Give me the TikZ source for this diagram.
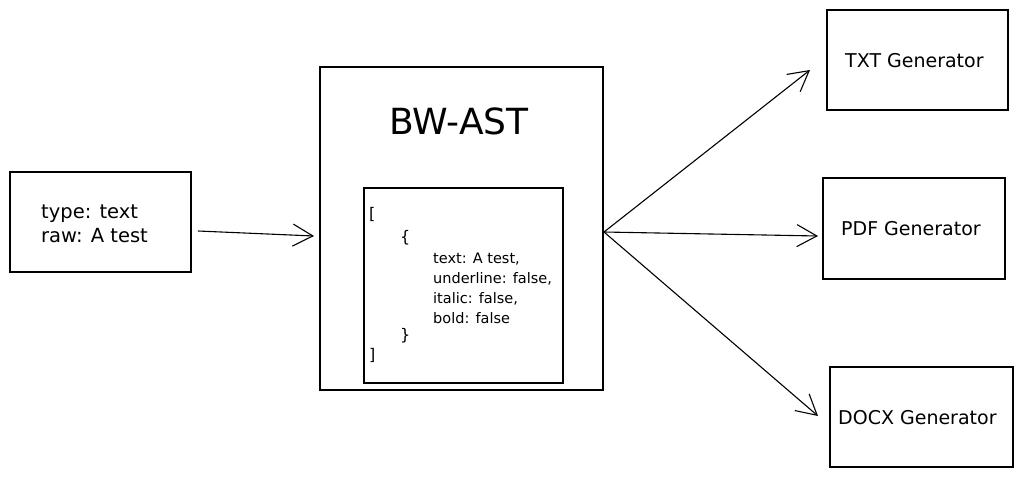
\documentclass[tikz,border=0pt]{standalone}
\usepackage{fontspec}
\setmainfont{DejaVu Sans}
\usetikzlibrary{arrows.meta}
\begin{document}
\begin{tikzpicture}[x=1pt,y=-1pt,
  box/.style={draw=black,line width=1.3pt},
  conn/.style={draw=black,line width=1.1pt,-{Straight Barb[length=20pt,width=22pt,line width=1.1pt]}},
  lbl/.style={font=\fontsize{19.5}{24}\selectfont,anchor=west,inner sep=0pt},
  gen/.style={font=\fontsize{19}{22}\selectfont,anchor=west,inner sep=0pt},
  code/.style={font=\fontsize{14.5}{20}\selectfont,anchor=west,inner sep=0pt},
  brk/.style={font=\fontsize{16}{20}\selectfont,anchor=west,inner sep=0pt}]
\useasboundingbox (0,0) rectangle (1022,477);
% left box
\node[box,minimum width=181pt,minimum height=100pt,inner sep=0pt] (src) at (100.5,222) {};
\node[lbl,align=left] (srct) at (41,224) {type: text\\raw: A test};
% BW-AST
\node[box,minimum width=283pt,minimum height=323pt,inner sep=0pt] (ast) at (461.5,228.5) {};
\node[font=\fontsize{36}{40}\selectfont,inner sep=0pt] (title) at (459,121) {BW-AST};
\node[box,minimum width=199pt,minimum height=195pt,inner sep=0pt] (inner) at (463.5,285.5) {};
\node[brk] (b1) at (369,214) {[};
\node[brk] (c1) at (400,238) {\{};
\node[code,align=left] (body) at (433,288) {text: A test,\\underline: false,\\italic: false,\\bold: false};
\node[brk] (c2) at (400,336) {\}};
\node[brk] (b2) at (369,355) {]};
% generators
\node[box,minimum width=181pt,minimum height=100pt,inner sep=0pt] (txt) at (917.5,60) {};
\node[gen] (txtl) at (845,61) {TXT Generator};
\node[box,minimum width=182pt,minimum height=101pt,inner sep=0pt] (pdf) at (914,228.5) {};
\node[gen] (pdfl) at (841,229) {PDF Generator};
\node[box,minimum width=183pt,minimum height=100pt,inner sep=0pt] (docx) at (921.5,417) {};
\node[gen] (docxl) at (838,418) {DOCX Generator};
% connectors
\coordinate (a0) at (198,231);
\coordinate (a1) at (314,236);
\coordinate (hub) at (604,232);
\coordinate (t1) at (810,70);
\coordinate (p1) at (818,236);
\coordinate (d1) at (818,416);
\draw[conn] (a0) -- (a1);
\draw[conn] (hub) -- (t1);
\draw[conn] (hub) -- (p1);
\draw[conn] (hub) -- (d1);
\end{tikzpicture}
\end{document}
